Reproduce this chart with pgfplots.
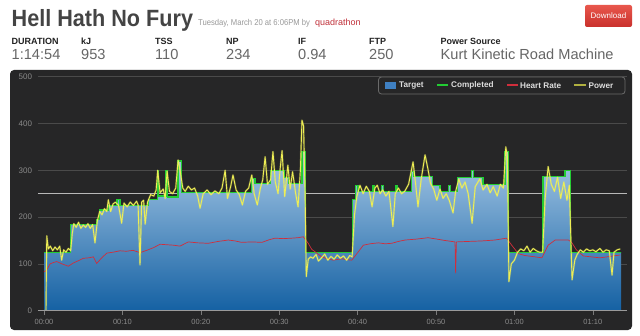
\documentclass[border=0pt]{standalone}
\usepackage{pgfplots}
\pgfplotsset{compat=1.18}
\usepackage{pgfplotstable}
\usepackage{fontspec}
\setmainfont{Liberation Sans}
\definecolor{panelc}{HTML}{262627}
\definecolor{gridc}{HTML}{4A4A4A}
\definecolor{tickc}{HTML}{7A7A7A}
\definecolor{baselc}{HTML}{9A9A9A}
\definecolor{ticklabc}{HTML}{8A8A8A}
\definecolor{areatop}{HTML}{A6C8E6}
\definecolor{areabot}{HTML}{1561A3}
\definecolor{ftpc}{HTML}{B8B8B8}
\definecolor{complc}{HTML}{22CC33}
\definecolor{hrc}{HTML}{D02E3C}
\definecolor{powc}{HTML}{EEEE55}
\definecolor{powleg}{HTML}{B0B040}
\definecolor{targetleg}{HTML}{3F80C2}
\definecolor{legdraw}{HTML}{6A6A6A}
\definecolor{legtext}{HTML}{DDDDDD}
\definecolor{titlec}{HTML}{444444}
\definecolor{subc}{HTML}{999999}
\definecolor{userc}{HTML}{C0303A}
\definecolor{valc}{HTML}{666666}
\definecolor{labc}{HTML}{222222}
\definecolor{btntop}{HTML}{E8574C}
\definecolor{btnbot}{HTML}{C9302C}

\pgfplotstableread{
x y
0 125
3.4 185
6.7 195
7.1 215
8.2 225
9.3 238
9.7 225
13.3 238
14.45 300
14.65 245
15.55 300
15.75 243
17.1 320
17.5 252
26.5 283
26.9 272
28.9 300
30.6 285
31.2 272
32.9 340
33.3 125
39.3 237
39.7 268
40.05 254
41.9 268
42.1 254
43.0 268
43.3 254
44.9 268
45.1 254
46.9 297
47.2 286
49.6 268
50.5 254
51.6 268
51.8 254
52.7 284
54.5 300
54.8 284
56.0 270
58.8 340
59.2 125
63.65 286
66.45 300
67.2 125
73.6 125
}\targettab

\pgfplotstableread{
x y
0 83
0.34 87
0.77 100
1.2 103
1.62 105
2.3 100
3.1 95
3.74 102
4.4 107
5.0 112
5.7 113
6.29 115
6.72 101
7.3 112
8.0 123
8.8 125
9.69 128
10.5 127
11.35 129
12.24 124
13.1 129
14.0 135
14.8 142
15.6 141
16.5 140
17.35 138
18.4 147
19.6 145
20.96 144
22.2 148
23.5 151
24.4 149
25.2 146
26.5 147
27.8 146
28.6 151
29.46 155
30.5 154
31.6 155
32.4 156
33.07 158
33.7 144
34.15 131
34.57 126
35.42 115
36.1 111
36.9 108
37.97 111
38.6 109
39.25 108
40.0 124
40.73 140
41.6 143
42.64 145
43.5 143
44.35 144
45.2 148
46.05 151
47.5 153
49.0 156
50.1 153
51.15 150
52.42 147
52.5 80
52.6 147
54.1 148
55.8 149
57.5 151
59.0 155
59.65 140
60.5 122
61.3 118
62.2 116
63.5 113
64.3 140
65.2 151
66.9 151
67.3 146
67.9 130
68.8 117
69.8 115
70.9 113
71.8 115
72.6 117
73.5 119
}\hrtab

\pgfplotstableread{
x y
0.0 0
0.25 0
0.35 160
0.55 132
0.8 138
1.1 128
1.4 136
1.7 130
2.0 138
2.25 108
2.5 130
2.8 125
3.1 133
3.4 128
3.6 165
3.8 186
4.1 178
4.4 189
4.7 176
5.0 183
5.3 178
5.6 186
5.9 176
6.2 184
6.5 145
6.8 192
7.1 212
7.4 205
7.7 218
8.0 212
8.2 237
8.5 212
8.8 228
9.1 232
9.5 225
9.9 187
10.2 230
10.6 222
11.0 232
11.4 225
11.8 234
12.0 226
12.24 98
12.45 232
12.7 236
12.9 185
13.2 232
13.6 248
14.0 245
14.3 258
14.5 300
14.8 252
15.2 260
15.45 240
15.7 298
16.0 255
16.4 250
16.8 262
17.1 322
17.35 300
17.7 262
18.0 255
18.4 266
18.8 258
19.2 262
19.6 245
19.9 219
20.3 250
20.8 258
21.3 248
21.8 256
22.3 250
22.7 262
23.1 300
23.4 240
23.8 265
24.1 290
24.5 258
24.9 248
25.3 226
25.7 255
26.1 262
26.5 290
26.8 250
27.2 226
27.6 262
27.9 280
28.2 329
28.5 270
28.9 280
29.2 340
29.5 275
29.85 250
30.1 300
30.36 342
30.7 244
31.1 311
31.4 260
31.7 297
32.1 250
32.4 222
32.7 300
32.9 407
33.1 395
33.3 250
33.45 73
33.7 110
34.0 115
34.3 112
34.7 120
35.0 106
35.4 113
35.8 121
36.2 108
36.6 116
37.0 110
37.4 119
37.8 112
38.2 117
38.6 108
39.0 118
39.3 115
39.6 205
39.9 244
40.3 268
40.7 250
41.1 266
41.5 255
41.84 222
42.2 262
42.5 268
42.86 250
43.2 258
43.6 245
44.0 255
44.5 180
44.8 250
45.2 262
45.6 250
46.0 255
46.5 270
47.07 318
47.4 270
47.7 222
48.1 280
48.6 333
49.0 300
49.3 272
49.7 260
50.1 236
50.5 260
50.9 240
51.3 250
51.7 235
52.17 209
52.5 255
52.9 281
53.3 262
53.7 275
54.1 250
54.6 187
55.0 265
55.6 282
56.0 258
56.5 270
56.9 252
57.3 265
57.8 245
58.2 270
58.6 262
58.9 350
59.1 330
59.3 62
59.6 100
60.0 108
60.4 125
60.8 132
61.2 128
61.6 138
62.0 125
62.4 133
62.8 128
63.2 125
63.6 125
63.9 236
64.3 308
64.7 270
65.1 255
65.5 285
65.9 240
66.3 275
66.7 236
67.0 268
67.35 66
67.7 108
68.0 120
68.4 130
68.8 125
69.2 132
69.6 128
70.0 130
70.4 126
70.9 133
71.3 125
71.7 130
72.1 128
72.45 76
72.7 125
73.1 130
73.5 132
}\powtab

\begin{document}
\begin{tikzpicture}[x=1pt,y=1pt]
\fill[white] (0,0) rectangle (640,335);
\useasboundingbox (0,0) rectangle (640,335);
\fill[panelc, rounded corners=4pt] (10,5) rectangle (632,265);
% header
\node[anchor=base west, inner sep=0, text=titlec, font=\fontsize{23.5}{26}\selectfont\bfseries] at (11.5,308) {\scalebox{0.92}[1]{Hell Hath No Fury}};
\node[anchor=base west, inner sep=0, text=subc, font=\fontsize{8.5}{9}\selectfont] at (198,309) {\scalebox{0.9}[1]{Tuesday, March 20 at 6:06PM by}};
\node[anchor=base west, inner sep=0, text=userc, font=\fontsize{9}{10}\selectfont] at (315,309) {quadrathon};
\shade[top color=btntop, bottom color=btnbot, rounded corners=2pt] (585,308) rectangle (632,330);
\node[text=white, font=\fontsize{8}{9}\selectfont, inner sep=0] at (608.5,319) {Download};
\foreach \xx/\lab/\val in {11.5/DURATION/1:14:54, 81/kJ/953, 155/TSS/110, 226/NP/234, 298/IF/0.94, 369/FTP/250, 440.5/Power Source/Kurt Kinetic Road Machine}{
  \node[anchor=base west, inner sep=0, text=labc, font=\fontsize{9}{10}\selectfont\bfseries] at (\xx,290) {\lab};
  \node[anchor=base west, inner sep=0, text=valc, font=\fontsize{14.6}{16}\selectfont] at (\xx,275) {\val};
}
% legend (drawn by hand)
\draw[legdraw, fill=panelc, rounded corners=3pt, line width=0.8pt] (378.5,241) rectangle (625,258);
\fill[targetleg] (385,246) rectangle (396,253);
\fill[complc] (436.5,248.5) rectangle (448,250.5);
\fill[hrc] (506.5,248.5) rectangle (517.5,250.5);
\fill[powleg] (574,248.5) rectangle (586,250.5);
\foreach \xx/\lab in {399/Target, 451/Completed, 520/Heart Rate, 588.5/Power}{
  \node[anchor=west, inner sep=0, text=legtext, font=\fontsize{8.2}{9}\selectfont\bfseries] at (\xx,249.5) {\lab};
}
\begin{axis}[
  at={(38pt,24.3pt)}, anchor=south west, scale only axis,
  width=589pt, height=234pt,
  xmin=-0.77, xmax=74.36, ymin=0, ymax=500,
  axis line style={draw=none},
  ymajorgrids, grid style={color=gridc, line width=0.8pt},
  ytick={0,100,...,500},
  xtick={0,10,...,70},
  xticklabels={00:00,00:10,00:20,00:30,00:40,00:50,01:00,01:10},
  xtick pos=bottom, ytick pos=left,
  tick align=outside,
  major tick length=4pt,
  xtick style={color=tickc, line width=0.6pt},
  ytick style={draw=none},
  /pgf/number format/assume math mode=true,
  ticklabel style={text=ticklabc},
  x tick label style={font=\fontsize{7.5}{8}\selectfont, yshift=-1pt},
  y tick label style={font=\fontsize{8}{9}\selectfont, xshift=1.5pt},
]
\addplot[color=ftpc, line width=1.5pt] coordinates {(-0.77,250) (74.36,250)};
\addplot[const plot, draw=none, top color=areatop, bottom color=areabot]
  table[x=x,y=y] {\targettab} \closedcycle;
\addplot[const plot, color=complc, line width=1.2pt] table[x=x,y=y] {\targettab};
\addplot[color=hrc, line width=0.7pt] table[x=x,y=y] {\hrtab};
\addplot[color=powc, line width=0.9pt, line join=round,
  preaction={draw, color=powc, line width=2pt, opacity=0.25}]
  table[x=x,y=y] {\powtab};
\draw[color=baselc, line width=1pt] (axis cs:-0.77,0) -- (axis cs:74.36,0);
\end{axis}
\end{tikzpicture}
\end{document}
